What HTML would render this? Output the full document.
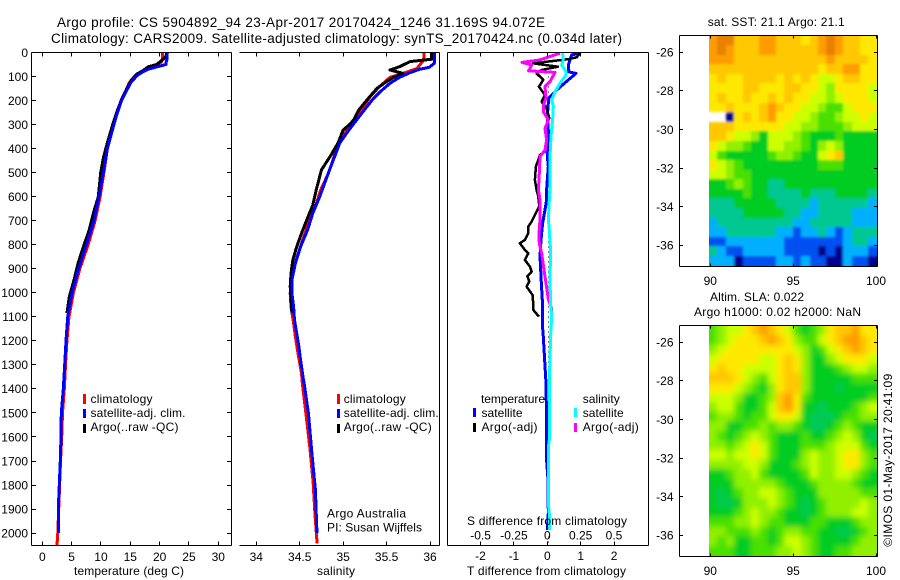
<!DOCTYPE html>
<html lang="en">
<head>
<meta charset="utf-8">
<title>Argo profile chart</title>
<style>
html,body{margin:0;padding:0;background:#fff;}
svg{display:block;}
text{font-family:"Liberation Sans",sans-serif;font-size:12px;fill:#000;}
.title{font-size:13.5px;}
</style>
</head>
<body>
<svg id="chart" xmlns="http://www.w3.org/2000/svg" width="900" height="580" viewBox="0 0 900 580">
  <defs>
    <clipPath id="clip-sst"><rect x="709" y="36" width="168" height="230"/></clipPath>
    <clipPath id="clip-sla"><rect x="709" y="326" width="168" height="230"/></clipPath>
    <filter id="blur-sst" filterUnits="userSpaceOnUse" x="680" y="0" width="220" height="300"><feGaussianBlur stdDeviation="1.2"/></filter>
    <filter id="blur-sla" filterUnits="userSpaceOnUse" x="680" y="290" width="220" height="290"><feGaussianBlur stdDeviation="3"/></filter>
  </defs>
  <g clip-path="url(#clip-sst)"><g id="layer-map-sst" filter="url(#blur-sst)"></g></g>
  <g clip-path="url(#clip-sla)"><g id="layer-map-sla" filter="url(#blur-sla)"></g></g>
  <g id="layer-series"></g>
  <g id="layer-axes" shape-rendering="crispEdges" stroke="#000" fill="none"></g>
  <g id="layer-ticklabels"></g>

  <text class="title" x="57" y="27" textLength="488">Argo profile: CS 5904892_94 23-Apr-2017 20170424_1246 31.169S 94.072E</text>
  <text class="title" x="51" y="43" textLength="571">Climatology: CARS2009. Satellite-adjusted climatology: synTS_20170424.nc (0.034d later)</text>

  <text x="74" y="575" textLength="110">temperature (deg C)</text>
  <text x="317" y="575" textLength="38">salinity</text>
  <text x="467" y="575" textLength="159">T difference from climatology</text>
  <text x="467" y="525" textLength="160">S difference from climatology</text>

  <g>
    <rect x="83" y="394" width="3" height="10" fill="#f00"/>
    <text x="90.5" y="403" textLength="62">climatology</text>
    <rect x="83" y="409" width="3" height="9" fill="#00f"/>
    <text x="90.5" y="417" textLength="95">satellite-adj. clim.</text>
    <rect x="83" y="424" width="3" height="9" fill="#000"/>
    <text x="90.5" y="431" textLength="88">Argo(..raw -QC)</text>
  </g>
  <g>
    <rect x="337" y="394" width="3" height="10" fill="#f00"/>
    <text x="343.7" y="403" textLength="62">climatology</text>
    <rect x="337" y="409" width="3" height="9" fill="#00f"/>
    <text x="343.7" y="417" textLength="95">satellite-adj. clim.</text>
    <rect x="337" y="424" width="3" height="9" fill="#000"/>
    <text x="343.7" y="431" textLength="88">Argo(..raw -QC)</text>
  </g>
  <text x="327" y="517.5" textLength="79">Argo Australia</text>
  <text x="327" y="531.5" textLength="95">PI: Susan Wijffels</text>

  <g>
    <text x="481" y="403" textLength="64">temperature</text>
    <rect x="473" y="408" width="3" height="9" fill="#00f"/>
    <text x="481.5" y="417" textLength="41">satellite</text>
    <rect x="473" y="423" width="3" height="9" fill="#000"/>
    <text x="481.5" y="431" textLength="56">Argo(-adj)</text>
    <text x="582.7" y="403" textLength="37">salinity</text>
    <rect x="574" y="408" width="3" height="9" fill="#0ff"/>
    <text x="582.7" y="417" textLength="41">satellite</text>
    <rect x="574" y="423" width="3" height="9" fill="#f0f"/>
    <text x="582.7" y="431" textLength="56">Argo(-adj)</text>
  </g>

  <text x="707.7" y="26" textLength="137">sat. SST: 21.1  Argo: 21.1</text>
  <text x="710" y="301" textLength="94">Altim. SLA: 0.022</text>
  <text x="694" y="316" textLength="167">Argo h1000: 0.02 h2000: NaN</text>
  <text transform="translate(892,546.7) rotate(-90)" x="0" y="0" textLength="173">©IMOS 01-May-2017 20:41:09</text>
</svg>

<script>
// ---------- axis tick data ----------
const depthTicks = [0,100,200,300,400,500,600,700,800,900,1000,1100,1200,1300,1400,1500,1600,1700,1800,1900,2000];
const tempTicks = [0,5,10,15,20,25,30];
const salTicks = [34,34.5,35,35.5,36];
const salTickLabels = ['34','34.5','35','35.5','36'];
const dTTicks = [-2,-1,0,1,2];
const dSTicks = [-0.5,-0.25,0,0.25,0.5];
const dSTickLabels = ['-0.5','-0.25','0','0.25','0.5'];
const lonTicks = [90,95,100];
const latTicks = [26,28,30,32,34,36];

// ---------- temperature profiles ----------
const climTempDepth = [0,30,40,50,60,70,80,100,125,150,200,300,400,500,600,700,800,900,1000,1100,1200,1300,1400,1500,1600,1700,1800,1900,2000,2050];
const climTemp = [20.45,20.45,20.3,19.5,18.4,17.8,17,15.7,14.85,14.4,13.4,12.2,11.1,10.5,9.85,9,7.8,6.4,5.3,4.55,4.2,3.95,3.75,3.45,3.3,3.1,2.95,2.8,2.65,2.5];
const adjTempDepth = [0,30,40,50,60,70,80,90,100,125,150,200,250,300,400,500,600,700,800,900,1000,1100,1200,1300,1400,1500,1600,1700,1800,1900,2000];
const adjTemp = [21.3,21.25,21.1,21.08,19.5,18,17.2,16.5,16,15.1,14.55,13.5,12.8,12.2,11.1,10.4,9.66,8.8,7.53,6.17,5.06,4.33,4.04,3.82,3.58,3.24,3.19,3.07,2.9,2.73,2.73];
const argoTempDepth = [4,20,30,40,50,60,75,90,115,150,185,240,300,375,440,500,600,669,739,808,877,947,1016,1075,1085];
const argoTemp = [21.2,21,20.5,20,19.5,18,17.2,16.1,15.2,14.4,13.7,12.8,12,11.1,10.4,9.95,9.55,8.7,8,7,6.1,5.4,4.6,4.26,4.2];

// ---------- salinity profiles ----------
const climSalDepth = [0,30,66,87,103,142,184,253,288,336,392,461,503,572,642,711,795,877,947,1002,1058,1127,1183,1252,1335,1376,1530,1655,1793,1918,2043];
const climSal = [35.93,35.93,35.85,35.69,35.54,35.42,35.31,35.19,35.1,35.02,34.93,34.87,34.83,34.74,34.68,34.6,34.52,34.445,34.4,34.39,34.4,34.43,34.45,34.48,34.52,34.53,34.58,34.62,34.655,34.675,34.7];
const adjSalDepth = [0,45,62,70,84,103,128,159,191,246,288,336,378,426,482,531,600,669,739,808,877,947,1002,1058,1113,1169,1224,1280,1355,1376,1501,1668,1820,1973,2000];
const adjSal = [36.05,36.05,35.99,35.88,35.77,35.65,35.54,35.44,35.35,35.23,35.14,35.04,34.96,34.91,34.85,34.8,34.73,34.65,34.59,34.51,34.45,34.41,34.41,34.43,34.44,34.465,34.49,34.51,34.54,34.55,34.6,34.64,34.68,34.695,34.7];
const argoSalDepth = [3,28,38,59,73,87,103,121,149,191,239,288,323,378,433,489,531,572,635,697,753,808,864,919,975,1085];
const argoSal = [36.02,36.02,35.77,35.65,35.54,35.69,35.58,35.5,35.39,35.29,35.18,35.11,35,34.94,34.85,34.75,34.72,34.69,34.65,34.58,34.52,34.465,34.42,34.4,34.39,34.41];

// ---------- difference profiles ----------
const satDTDepth = [3,10,31,52,80,87,114,156,191,212,267,322,364,433,475,530,572,614,655,711,780,849,933,1030,1127,1182,1377,1543,1696,1779,1918,1987];
const satDT = [0.98,0.73,0.68,0.63,0.63,0.86,0.63,0.28,0.03,0.03,0,0.03,0.03,0,0.03,0,-0.02,-0.02,-0.07,-0.14,-0.19,-0.22,-0.19,-0.15,-0.15,-0.12,-0.04,-0.02,-0.02,0.02,0.03,0];
const argoDTDepth = [3,20,28,45,59,73,87,114,142,177,205,232,274,316,364,413,426,475,530,572,600,641,676,704,725,752,780,794,822,836,863,891,912,930,953,974,1009,1050,1071,1099];
const argoDT = [0.98,0.88,0.63,-0.43,0.32,-0.17,-0.32,-0.12,-0.25,-0.07,-0.17,-0.02,0.06,-0.07,-0.02,-0.07,-0.22,-0.34,-0.37,-0.32,-0.27,-0.24,-0.37,-0.47,-0.57,-0.57,-0.67,-0.82,-0.67,-0.57,-0.67,-0.52,-0.47,-0.6,-0.54,-0.62,-0.44,-0.42,-0.42,-0.25];
const satDSDepth = [3,31,52,80,94,128,163,198,225,281,350,433,572,614,697,738,821,946,1044,1099,1182,1377,1613,1640,1876,1918,1987];
const satDS = [0.115,0.12,0.108,0.14,0.14,0.095,0.058,0.033,0.045,0.04,0.028,0.02,0.02,0.015,0.008,0.015,0.025,0.02,0.025,0.033,0.025,0.015,0.015,0.008,0.008,0.015,0.015];
const argoDSDepth = [3,31,41,52,76,83,121,142,191,218,246,281,316,364,406,433,503,572,614,697,752,794,836,905,960,1030,1064,1099];
const argoDS = [0.095,-0.055,-0.19,-0.117,-0.14,0.058,0.02,-0.017,-0.01,-0.03,-0.03,0.008,-0.017,-0.005,-0.017,-0.055,-0.06,-0.067,-0.055,-0.055,-0.062,-0.06,-0.042,-0.025,-0.01,0.008,0.033,0.033];

// ---------- gridded maps: colour-class value per 0.5 degree cell, -1 = no data ----------
const sstGrid = [
[10,11,11,9,9,9,10,10,9,9,9,8,9,10,11,10,9,9,8,8],
[10,11,10,9,9,9,10,10,9,9,9,9,9,10,11,10,9,9,8,8],
[10,10,10,9,9,9,9,9,9,9,9,9,9,9,10,9,9,9,9,8],
[9,9,9,9,9,9,9,9,9,9,9,9,9,8,9,9,10,10,8,8],
[8,9,8,8,9,9,9,9,8,9,8,9,8,7,7,8,9,9,8,8],
[8,8,8,8,9,9,8,8,8,9,9,8,8,7,6,8,8,8,8,7],
[8,9,8,8,9,8,8,9,8,9,8,8,7,7,6,7,8,8,8,7],
[8,8,9,8,8,8,9,10,9,8,8,7,7,6,5,5,7,8,8,8],
[-1,-1,0,8,9,8,9,10,8,8,7,7,6,5,5,6,7,7,8,7],
[9,9,9,8,8,8,8,8,8,7,7,6,6,5,5,5,6,7,7,7],
[9,9,8,7,7,6,4,7,7,7,6,5,4,4,4,5,4,4,4,4],
[8,7,6,6,5,4,4,7,7,6,6,5,4,6,7,6,4,4,4,4],
[7,5,4,4,4,4,4,5,6,6,5,4,4,7,8,9,4,4,4,4],
[8,7,6,5,4,4,4,4,4,4,4,4,4,5,5,5,4,4,4,4],
[7,7,6,5,5,4,4,4,4,4,4,4,4,4,4,4,4,4,4,4],
[4,4,5,6,5,4,4,3,3,4,4,4,4,4,4,4,4,4,4,4],
[4,4,4,4,5,4,4,3,3,3,3,4,3,3,3,4,4,4,4,3],
[3,3,3,4,4,4,4,4,3,3,3,3,2,3,3,3,3,3,3,2],
[3,3,3,3,4,4,4,4,4,3,3,2,2,3,3,3,3,2,2,2],
[2,3,3,3,3,3,3,3,3,3,2,2,3,3,3,3,3,2,2,2],
[2,2,3,3,3,3,3,3,2,2,1,2,2,3,2,1,2,3,3,3],
[1,1,2,2,2,2,2,2,2,1,1,1,1,1,1,1,2,3,3,2],
[3,2,1,1,2,2,2,2,2,1,1,1,1,0,1,0,2,2,2,1],
[2,2,2,0,1,1,1,1,2,2,1,2,1,1,0,0,2,1,1,0]
];
const slaGrid = [
[5,6,7,7,8,9,10,9,8,7,5,4,5,6,8,9,9,10,8,8],
[5,6,7,8,8,8,9,10,9,8,6,5,5,7,8,9,10,10,9,8],
[6,7,8,8,8,8,8,8,8,8,7,6,4,5,7,8,9,10,9,8],
[7,8,8,8,8,8,7,7,8,9,8,6,4,4,6,7,8,8,8,7],
[8,9,8,8,7,7,7,7,8,9,8,6,4,4,4,5,6,7,7,6],
[9,9,9,8,7,6,5,7,8,9,9,6,4,4,4,4,4,5,5,5],
[8,8,8,7,6,5,4,6,8,9,9,6,4,4,4,3.6,4,4,4,4],
[7,7,7,6,4,4,5,6,9,10,8,5,4,4,4,4,4,4,4,5],
[6,7,7,5,4,4,5,7,9,10,8,4,4,3.5,4,4,4,5,6,7],
[5,6,6,5,4,5,5,7,8,8,7,4,3.5,3.5,3.5,4,5,5,6,6],
[6,6,4,4,5,5,6,5,6,6,5,4,3.5,3.5,4,5,6,5,4,4],
[6,5,4,5,6,7,6,5,4,4,4,5,4,4,5,6,7,6,4,3.6],
[6,6,5,6,7,8,7,5,4,4,4,5,5,5,6,7,7,7,5,4],
[7,7,6,7,7,8,7,5,4,4,4,6,7,6,6,7,8,8,6,5],
[6,6,6,6,7,7,6,4,4,4,5,6,7,6,6,7,8,8,6,5],
[4,4,5,6,6,7,5,4,4,4,4,5,7,6,6,7,7,6,5,4],
[4,4,4,6,6,6,6,6,5,4,4,4,5,6,6,6,6,5,4,4],
[4,3.6,4,5,6,6,7,7,6,5,4,4,4,6,6,6,6,6,5,5],
[4,3.6,3.6,4,6,6,6,7,6,5,4,3.6,4,5,6,6,6,6,7,6],
[4,4,4,5,6,7,6,6,5,4,4,3.6,4,5,6,6,6,7,7,6],
[5,5,5,6,6,7,6,5,5,4,4,4,5,5,4,4,4,5,6,6],
[6,6,5,5,5,6,5,4,5,6,6,5,5,4,4,3.6,3.6,4,5,6],
[6,5,6,4,4,5,5,4,5,7,7,6,5,4,4,4,4,5,6,6],
[5,5,5,4,4,5,5,5,6,6,7,6,5,4,4,5,5,6,6,6]
];

// ---------- scales ----------
const NS = 'http://www.w3.org/2000/svg';
const depthY = d => 52.5 + 0.2403 * d;
const tempX = t => 42.3 + 5.867 * t;
const salX = s => 256.3 + 86.85 * (s - 34);
const dTX = t => 547.3 + 33.4 * t;
const dSX = s => 547.3 + 133.4 * s;
const lonX = l => 710.3 + 16.57 * (l - 90);
const latYTop = l => 52.3 + 19.3 * (l - 26);
const latYBot = l => 342.3 + 19.3 * (l - 26);

const seriesLayer = document.getElementById('layer-series');
const axesLayer = document.getElementById('layer-axes');
const labelLayer = document.getElementById('layer-ticklabels');

const palette = [[0,0,144],[0,80,240],[0,176,255],[0,200,144],[0,204,32],[72,224,0],[144,240,0],[204,255,0],[255,232,0],[255,200,0],[255,156,0],[232,128,0]];
function levelColor(v){
  const lo = Math.max(0, Math.min(palette.length - 1, Math.floor(v)));
  const hi = Math.min(palette.length - 1, lo + 1);
  const f = Math.max(0, Math.min(1, v - lo));
  const c = palette[lo].map((p, i) => Math.round(p + (palette[hi][i] - p) * f));
  return 'rgb(' + c.join(',') + ')';
}

function drawProfile(depths, values, xFn, color, width, name){
  const pts = [];
  const n = Math.min(depths.length, values.length);
  for (let i = 0; i < n; i++) {
    pts.push(xFn(values[i]).toFixed(1) + ',' + depthY(depths[i]).toFixed(1));
  }
  const el = document.createElementNS(NS, 'polyline');
  
  
  el.setAttribute('points', pts.join(' '));
  el.setAttribute('fill', 'none');
  el.setAttribute('stroke', color);
  el.setAttribute('stroke-width', width);
  el.setAttribute('stroke-linejoin', 'round');
  el.setAttribute('shape-rendering', 'crispEdges');
  seriesLayer.appendChild(el);
}

function axisLine(x1, y1, x2, y2, name){
  const el = document.createElementNS(NS, 'line');
  
  
  el.setAttribute('x1', x1);
  el.setAttribute('y1', y1);
  el.setAttribute('x2', x2);
  el.setAttribute('y2', y2);
  axesLayer.appendChild(el);
}

function tickLabel(x, y, str, anchor, name){
  const el = document.createElementNS(NS, 'text');
  
  
  el.setAttribute('x', x);
  el.setAttribute('y', y);
  el.setAttribute('text-anchor', anchor);
  el.textContent = str;
  labelLayer.appendChild(el);
}

function drawMap(grid, layerId, latFn, name){
  const layer = document.getElementById(layerId);
  const lon0 = 89.92, dLon = 10.12 / 20, lat0 = 25.13, dLat = 11.92 / 24;
  const rows = grid.length, cols = grid[0].length, bleed = 12;
  grid.forEach((row, r) => row.forEach((v, c) => {
    if (v < 0) return;
    // outer cells bleed past the clip so the smoothing does not fade the map edge
    const x0 = Math.round(lonX(lon0 + c * dLon)) - (c === 0 ? bleed : 0);
    const x1 = Math.round(lonX(lon0 + (c + 1) * dLon)) + (c === cols - 1 ? bleed : 0);
    const y0 = Math.round(latFn(lat0 + r * dLat)) - (r === 0 ? bleed : 0);
    const y1 = Math.round(latFn(lat0 + (r + 1) * dLat)) + (r === rows - 1 ? bleed : 0);
    const el = document.createElementNS(NS, 'rect');
    
    
    el.setAttribute('x', x0);
    el.setAttribute('y', y0);
    el.setAttribute('width', x1 - x0);
    el.setAttribute('height', y1 - y0);
    el.setAttribute('fill', levelColor(v));
    el.setAttribute('shape-rendering', 'crispEdges');
    layer.appendChild(el);
  }));
}

// ---------- maps ----------
drawMap(sstGrid, 'layer-map-sst', latYTop, 'sst-cell');
drawMap(slaGrid, 'layer-map-sla', latYBot, 'sla-cell');

// ---------- zero line in difference panel ----------
const zeroLine = document.createElementNS(NS, 'line');


zeroLine.setAttribute('x1', 548.5);
zeroLine.setAttribute('x2', 548.5);
zeroLine.setAttribute('y1', depthY(100));
zeroLine.setAttribute('y2', 545);
zeroLine.setAttribute('stroke', '#000');
zeroLine.setAttribute('stroke-dasharray', '1 4');
zeroLine.setAttribute('shape-rendering', 'crispEdges');
seriesLayer.appendChild(zeroLine);

// ---------- series ----------
drawProfile(climTempDepth, climTemp, tempX, '#f00', 3, 'temperature-climatology-line');
drawProfile(argoTempDepth, argoTemp, tempX, '#000', 3, 'temperature-argo-line');
drawProfile(adjTempDepth, adjTemp, tempX, '#00f', 3, 'temperature-satellite-adj-line');

drawProfile(climSalDepth, climSal, salX, '#f00', 3, 'salinity-climatology-line');
drawProfile(argoSalDepth, argoSal, salX, '#000', 3, 'salinity-argo-line');
drawProfile(adjSalDepth, adjSal, salX, '#00f', 3, 'salinity-satellite-adj-line');

drawProfile(satDTDepth, satDT, dTX, '#00f', 3, 't-difference-satellite-line');
drawProfile(argoDTDepth, argoDT, dTX, '#000', 2.5, 't-difference-argo-line');
drawProfile(argoDSDepth, argoDS, dSX, '#f0f', 3, 's-difference-argo-line');
drawProfile(satDSDepth, satDS, dSX, '#0ff', 3, 's-difference-satellite-line');

// ---------- panel frames ----------
const TOP = 52.5, BOT = 545.5;
axisLine(31.5, TOP, 231.5, TOP, 'temperature-panel-top');
axisLine(31.5, BOT, 231.5, BOT, 'temperature-panel-bottom');
axisLine(31.5, TOP, 31.5, BOT, 'temperature-panel-left');
axisLine(231.5, TOP, 231.5, BOT, 'temperature-panel-right');
axisLine(239.5, TOP, 439.5, TOP, 'salinity-panel-top');
axisLine(239.5, BOT, 439.5, BOT, 'salinity-panel-bottom');
axisLine(439.5, TOP, 439.5, BOT, 'salinity-panel-right');
axisLine(447.5, TOP, 648.5, TOP, 'difference-panel-top');
axisLine(447.5, BOT, 648.5, BOT, 'difference-panel-bottom');
axisLine(447.5, TOP, 447.5, BOT, 'difference-panel-left');
axisLine(648.5, TOP, 648.5, BOT, 'difference-panel-right');

// ---------- profile ticks ----------
depthTicks.forEach(d => {
  const y = Math.floor(depthY(d)) + 0.5;
  axisLine(31.5, y, 36, y, 'depth-tick-left');
  axisLine(227, y, 231.5, y, 'depth-tick-right');
  tickLabel(28, depthY(d) + 4.3, String(d), 'end', 'depth-tick-label');
});
function xTicks(values, xFn, labels, baseline, name){
  values.forEach((v, i) => {
    const x = Math.floor(xFn(v)) + 0.5;
    axisLine(x, TOP, x, TOP + 4, name + '-tick-top');
    axisLine(x, BOT - 4, x, BOT, name + '-tick-bottom');
    tickLabel(xFn(v), baseline, labels[i], 'middle', name + '-tick-label');
  });
}
xTicks(tempTicks, tempX, tempTicks.map(String), 561, 'temperature');
xTicks(salTicks, salX, salTickLabels, 561, 'salinity');
xTicks(dTTicks, dTX, dTTicks.map(String), 560, 't-difference');
dSTicks.forEach((v, i) => {
  tickLabel(dSX(v), 539.5, dSTickLabels[i], 'middle', 's-difference-tick-label');
});

// ---------- map frames and ticks ----------
function mapFrame(top, bottom, latFn, baseline, name){
  axisLine(679.5, top, 877.5, top, name + '-frame-top');
  axisLine(679.5, bottom, 877.5, bottom, name + '-frame-bottom');
  axisLine(679.5, top, 679.5, bottom, name + '-frame-left');
  axisLine(877.5, top, 877.5, bottom, name + '-frame-right');
  lonTicks.forEach(l => {
    const x = Math.floor(lonX(l)) + 0.5;
    axisLine(x, top, x, top + 3, name + '-lon-tick-top');
    axisLine(x, bottom - 3, x, bottom, name + '-lon-tick-bottom');
    tickLabel(lonX(l), baseline, String(l), 'middle', name + '-lon-tick-label');
  });
  latTicks.forEach(l => {
    const y = Math.floor(latFn(l)) + 0.5;
    axisLine(679.5, y, 683, y, name + '-lat-tick-left');
    axisLine(874, y, 877.5, y, name + '-lat-tick-right');
    tickLabel(673.5, latFn(l) + 4.3, '-' + l, 'end', name + '-lat-tick-label');
  });
}
mapFrame(35.5, 266.5, latYTop, 285, 'sst-map');
mapFrame(325.5, 556.5, latYBot, 575, 'sla-map');
</script>
</body>
</html>
